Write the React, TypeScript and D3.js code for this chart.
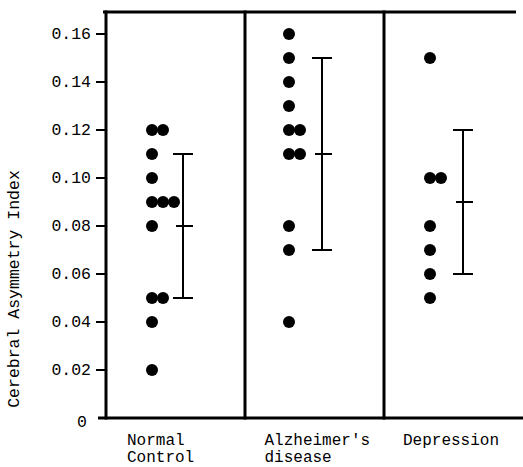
import React from "react";
import * as d3 from "d3";

const categories = ["Normal Control", "Alzheimer's disease", "Depression"];
const categoryLines = [["Normal", "Control"], ["Alzheimer's", "disease"], ["Depression"]];
const normalValues = [0.12, 0.12, 0.11, 0.1, 0.09, 0.09, 0.09, 0.08, 0.05, 0.05, 0.04, 0.02];
const alzheimerValues = [0.16, 0.15, 0.14, 0.13, 0.12, 0.12, 0.11, 0.11, 0.08, 0.07, 0.04];
const depressionValues = [0.15, 0.1, 0.1, 0.08, 0.07, 0.06, 0.05];
const errLow = [0.05, 0.07, 0.06];
const errMean = [0.08, 0.11, 0.09];
const errHigh = [0.11, 0.15, 0.12];
const yTicks = [0, 0.02, 0.04, 0.06, 0.08, 0.1, 0.12, 0.14, 0.16];
const yLabel = "Cerebral Asymmetry Index";

const W = 523;
const H = 467;
const FONT = "'Liberation Mono', 'DejaVu Sans Mono', monospace";

export default function App() {
  const y = d3.scaleLinear().domain([0, 0.16]).range([418, 34]);
  const x = d3.scaleBand().domain(categories).range([106, 523]).paddingInner(0).paddingOuter(0);
  const groups = [normalValues, alzheimerValues, depressionValues];
  const top = 12;
  const bottom = y(0);
  const fmt = (v: number) => (v === 0 ? "0" : d3.format(".2f")(v));

  return (
    <svg width={W} height={H} style={{ position: "absolute", left: 0, top: 0, background: "#fff" }}>
      <rect x={0} y={0} width={W} height={H} fill="#fff" />
      {/* frame */}
      <line x1={103} x2={516} y1={top} y2={top} stroke="#000" strokeWidth={3} />
      <line x1={98} x2={523} y1={bottom} y2={bottom} stroke="#000" strokeWidth={3} />
      <line x1={106} x2={106} y1={top - 1.5} y2={bottom + 1.5} stroke="#000" strokeWidth={3} />
      {categories.slice(1).map((c) => (
        <line key={c} x1={x(c)!} x2={x(c)!} y1={top - 1.5} y2={bottom + 1.5} stroke="#000" strokeWidth={3} />
      ))}
      {/* y ticks */}
      {yTicks.map((t) => (
        <g key={t}>
          {t !== 0 && <line x1={96} x2={106} y1={y(t)} y2={y(t)} stroke="#000" strokeWidth={2} />}
          <text
            x={t === 0 ? 87 : 91}
            y={y(t) + (t === 0 ? 4 : 0)}
            textAnchor="end"
            dominantBaseline="central"
            fontFamily={FONT}
            fontSize={16.5}
            fill="#000"
          >
            {fmt(t)}
          </text>
        </g>
      ))}
      {/* y label */}
      <text
        transform={`translate(19, 289) rotate(-90)`}
        textAnchor="middle"
        fontFamily={FONT}
        fontSize={16.5}
        fill="#000"
      >
        {yLabel}
      </text>
      {/* dots */}
      {groups.map((vals, gi) => {
        const c = categories[gi];
        const base = x(c)! + (gi === 1 ? 44 : 46);
        const seen = new Map<number, number>();
        return vals.map((v, i) => {
          const k = seen.get(v) ?? 0;
          seen.set(v, k + 1);
          return <circle key={`${gi}-${i}`} cx={base + k * 11} cy={y(v)} r={6} fill="#000" />;
        });
      })}
      {/* error bars */}
      {categories.map((c, i) => {
        const ex = x(c)! + (i === 2 ? 79 : 77);
        return (
          <g key={c} stroke="#000" strokeWidth={2}>
            <line x1={ex} x2={ex} y1={y(errHigh[i])} y2={y(errLow[i])} />
            <line x1={ex - 10} x2={ex + 10} y1={y(errHigh[i])} y2={y(errHigh[i])} />
            <line x1={ex - 10} x2={ex + 10} y1={y(errLow[i])} y2={y(errLow[i])} />
            <line x1={ex - 7} x2={ex + 10} y1={y(errMean[i])} y2={y(errMean[i])} />
          </g>
        );
      })}
      {/* category labels */}
      {categories.map((c, i) => (
        <text key={c} fontFamily={FONT} fontSize={16} fill="#000">
          {categoryLines[i].map((ln, j) => (
            <tspan key={j} x={x(c)! + (i === 0 ? 21 : 20 - i * 0.5)} y={445 + j * 17}>
              {ln}
            </tspan>
          ))}
        </text>
      ))}
    </svg>
  );
}
